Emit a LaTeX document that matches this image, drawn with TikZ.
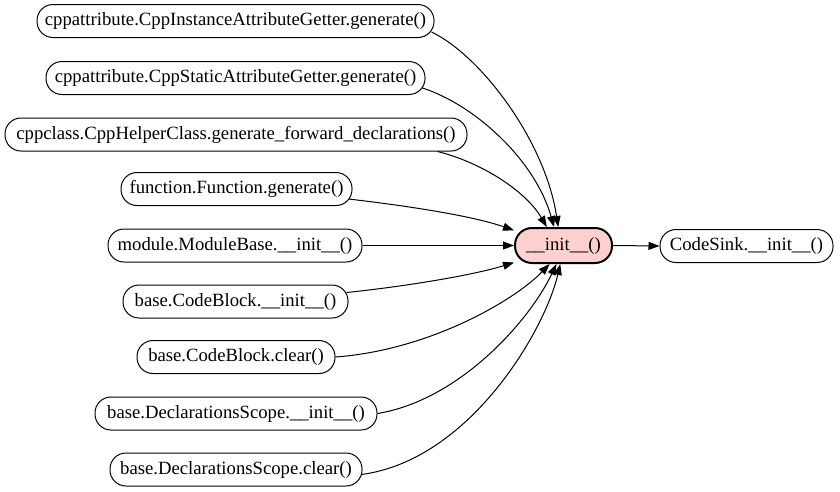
\documentclass[tikz,border=0pt]{standalone}
\usepackage{fontspec}
\setmainfont{Liberation Serif}
\usetikzlibrary{arrows.meta,calc}
\definecolor{initpink}{RGB}{255,208,208}
\tikzset{
  fn/.style={draw=black, line width=1pt, rectangle, rounded corners=16pt,
    minimum height=33pt, inner xsep=0pt, inner ysep=0pt,
    font=\fontsize{18.7}{20}\selectfont},
  hub/.style={fn, fill=initpink, line width=2pt, minimum height=35pt, rounded corners=17pt},
  edge/.style={draw=black, line width=1pt, -{Triangle[length=11pt,width=8pt]}}
}
\begin{document}
\begin{tikzpicture}[x=1pt, y=-1pt]
\useasboundingbox (0,0) rectangle (840,491);
\node[fn, minimum width=397pt] (n1) at (235.5,21) {cppattribute.CppInstanceAttributeGetter.generate()};
\node[fn, minimum width=379pt] (n2) at (235.5,78) {cppattribute.CppStaticAttributeGetter.generate()};
\node[fn, minimum width=462pt] (n3) at (236,134.5) {cppclass.CppHelperClass.generate\_forward\_declarations()};
\node[fn, minimum width=231pt] (n4) at (236.5,189) {function.Function.generate()};
\node[fn, minimum width=254pt] (n5) at (235,245.5) {module.ModuleBase.\_\_init\_\_()};
\node[fn, minimum width=225pt] (n6) at (235.5,301.5) {base.CodeBlock.\_\_init\_\_()};
\node[fn, minimum width=198pt] (n7) at (236,357) {base.CodeBlock.clear()};
\node[fn, minimum width=282pt] (n8) at (236,413.5) {base.DeclarationsScope.\_\_init\_\_()};
\node[fn, minimum width=252pt] (n9) at (236,469.5) {base.DeclarationsScope.clear()};
\node[hub, minimum width=97pt] (init) at (563.5,245.5) {\_\_init\_\_()};
\node[fn, minimum width=173pt] (sink) at (746.5,246) {CodeSink.\_\_init\_\_()};

\draw[edge] ($(n1.east)+(-3,11)$) .. controls (480,55) and (545,140) .. (init.106);
\draw[edge] ($(n2.east)+(-3,10)$) .. controls (475,105) and (535,160) .. (init.117);
\draw[edge] ($(n3.south east)+(-30,0)$) .. controls (480,162) and (525,190) .. (init.132);
\draw[edge] ($(n4.east)+(-4,10)$) .. controls (400,205) and (470,215) .. (init.163);
\draw[edge] (n5.east) -- (init.west);
\draw[edge] ($(n6.east)+(-2,-9)$) .. controls (400,287) and (470,276) .. (init.199);
\draw[edge] (n7.east) .. controls (430,350) and (515,300) .. (init.233);
\draw[edge] (n8.east) .. controls (460,400) and (530,320) .. (init.249);
\draw[edge] ($(n9.east)+(-1,5)$) .. controls (470,460) and (545,330) .. (init.260);
\draw[edge] (init.east) -- (sink.west);
\end{tikzpicture}
\end{document}
